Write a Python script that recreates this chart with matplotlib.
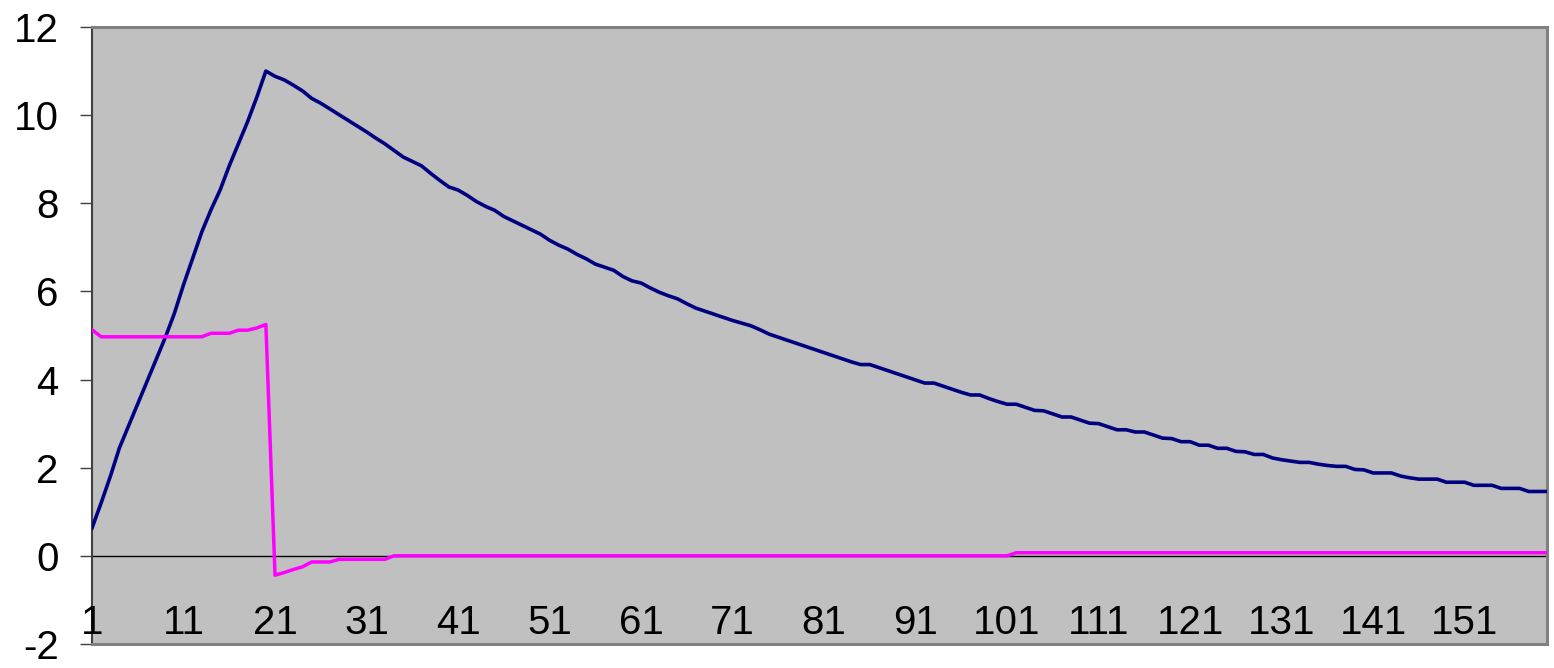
import matplotlib.pyplot as plt

plt.rcParams['font.family'] = ['Liberation Sans', 'DejaVu Sans']
plt.rcParams['axes.unicode_minus'] = False

# categories 1..160
points = list(range(1, 161))

# navy series
series_a = [
    0.63, 1.2, 1.8, 2.45, 2.95, 3.45, 3.95, 4.45, 4.95, 5.5,
    6.15, 6.75, 7.35, 7.85, 8.3, 8.85, 9.35, 9.85, 10.4, 11.0,
    10.88, 10.8, 10.68, 10.55, 10.38, 10.27, 10.14, 10.01, 9.88, 9.75,
    9.62, 9.48, 9.35, 9.2, 9.05, 8.95, 8.85, 8.68, 8.52, 8.37,
    8.3, 8.18, 8.04, 7.93, 7.84, 7.7, 7.6, 7.5, 7.4, 7.3,
    7.16, 7.05, 6.96, 6.84, 6.74, 6.62, 6.55, 6.48, 6.34, 6.24,
    6.19, 6.08, 5.98, 5.9, 5.83, 5.72, 5.62, 5.55, 5.48, 5.41,
    5.34, 5.28, 5.22, 5.13, 5.03, 4.96, 4.89, 4.82, 4.75, 4.68,
    4.61, 4.54, 4.47, 4.4, 4.34, 4.34, 4.27, 4.2, 4.13, 4.06,
    3.99, 3.92, 3.92, 3.85, 3.78, 3.71, 3.65, 3.65, 3.57, 3.5,
    3.44, 3.44, 3.37, 3.3, 3.29, 3.22, 3.15, 3.15, 3.08, 3.01,
    3.0, 2.93, 2.86, 2.86, 2.81, 2.81, 2.74, 2.67, 2.66, 2.59,
    2.59, 2.51, 2.51, 2.44, 2.44, 2.37, 2.36, 2.3, 2.3, 2.22,
    2.18, 2.15, 2.12, 2.12, 2.08, 2.05, 2.03, 2.03, 1.96, 1.95,
    1.88, 1.88, 1.88, 1.81, 1.77, 1.74, 1.74, 1.74, 1.67, 1.67,
    1.67, 1.6, 1.6, 1.6, 1.53, 1.53, 1.53, 1.46, 1.46, 1.46,
]

# magenta series
series_b = ([5.13] + [4.97] * 12 + [5.05] * 3 + [5.12] * 2 + [5.17, 5.25]
            + [-0.44, -0.38, -0.31, -0.25, -0.14, -0.14, -0.14]
            + [-0.08] * 6 + [0.0] * 68 + [0.07] * 59)

xtick_pos = [1, 11, 21, 31, 41, 51, 61, 71, 81, 91, 101, 111, 121, 131, 141, 151]
xtick_labels = [str(v) for v in xtick_pos]
ytick_vals = [-2, 0, 2, 4, 6, 8, 10, 12]

fig = plt.figure(figsize=(15.54, 6.68), dpi=100)
ax = fig.add_axes([0.0592, 0.036, 0.9363, 0.9236])
ax.set_facecolor('#C0C0C0')

ax.axhline(0, color='black', lw=1, zorder=1)
ax.plot(points, series_a, color='#000080', lw=2.6, zorder=3)
ax.plot(points, series_b, color='#FF00FF', lw=2.5, zorder=3)

ax.set_xlim(1, 160)
ax.set_ylim(-2, 12)

ax.set_yticks(ytick_vals)
ax.tick_params(axis='y', length=8.6, width=1, color='#404040', pad=15.5,
               labelsize=29)
ax.set_xticks([])
for p, lab in zip(xtick_pos, xtick_labels):
    ax.text(p, -1.77, lab, ha='center', va='baseline', fontsize=29)

ax.spines['left'].set_color('#404040')
ax.spines['left'].set_linewidth(1.5)
for s in ['top', 'right', 'bottom']:
    ax.spines[s].set_color('#808080')
    ax.spines[s].set_linewidth(2.2)

plt.savefig('out.png', dpi=100)
